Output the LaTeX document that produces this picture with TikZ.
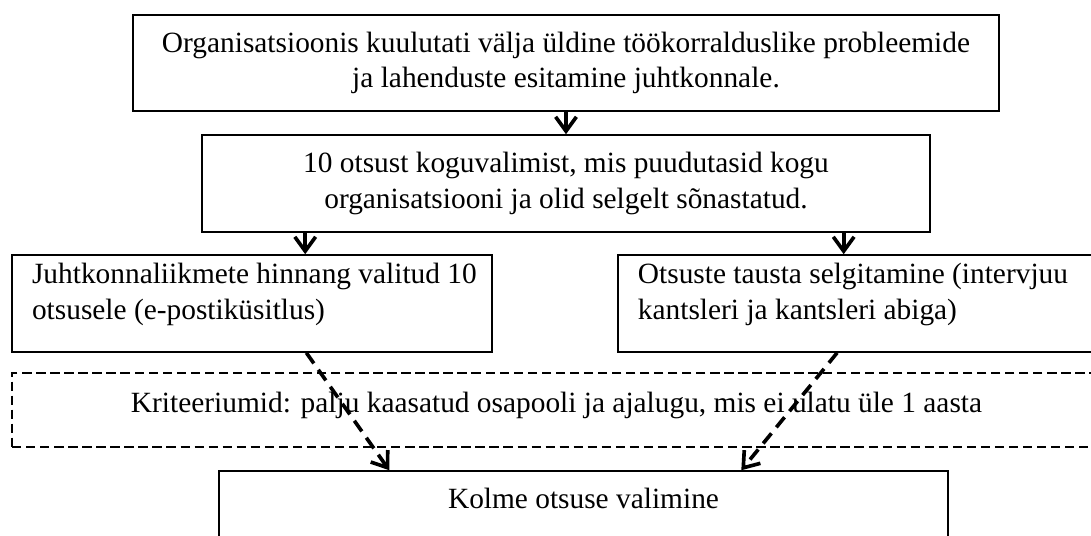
\documentclass[tikz,border=0pt]{standalone}
\usepackage{fontspec}
\setmainfont{Liberation Serif}
\usetikzlibrary{arrows.meta}
\tikzset{
  node-box/.style={draw,line width=0.6pt,inner sep=0pt,align=center,
    font=\fontsize{11.3pt}{13.8pt}\selectfont},
  node-crit/.style={node-box,dash pattern=on 3.6pt off 1.8pt},
  % text at the top of the box, not centred
  node-top/.style={node-box,inner xsep=7.7pt,inner ysep=3.1pt},
  arrow/.style={-{Straight Barb[length=5.5pt,width=8pt]},line width=1.4pt},
  arrow-dash/.style={arrow,dash pattern=on 5pt off 3pt},
}
\newcommand{\topbox}[3]{\parbox[c][#1][t]{#2}{#3}}

\begin{document}
\begin{tikzpicture}[x=0.3846pt,y=-0.3846pt]
  \clip (0,0) rectangle (1091,536);
  \node[node-box,minimum width=333.1pt,minimum height=36.9pt] (kuulutus) at (566,63)
    {Organisatsioonis kuulutati välja üldine töökorralduslike probleemide\\ja lahenduste esitamine juhtkonnale.};
  \node[node-box,minimum width=280pt,minimum height=37.3pt] (koguval) at (566,183.5)
    {10 otsust koguvalimist, mis puudutasid kogu\\organisatsiooni ja olid selgelt sõnastatud.};
  \node[node-top,minimum width=184.6pt] (hinnang) at (252,303.5)
    {\topbox{31.1pt}{169.2pt}{\raggedright\mbox{Juhtkonnaliikmete hinnang valitud 10}\\\mbox{otsusele (e-postiküsitlus)}}};
  \node[node-top,minimum width=185.8pt] (taust) at (859.5,303.5)
    {\topbox{31.1pt}{170.4pt}{\raggedright\mbox{Otsuste tausta selgitamine (intervjuu}\\\mbox{kantsleri ja kantsleri abiga)}}};
  \node[node-crit,minimum width=418.8pt,minimum height=28.5pt,
    text height=7.7pt,text depth=5.4pt] (kriteerium) at (556.5,410)
    {Kriteeriumid: palju kaasatud osapooli ja ajalugu, mis ei ulatu üle 1 aasta};
  \node[node-box,inner ysep=6.5pt,minimum width=280.4pt] (valik) at (583.5,519.5)
    {\topbox{24.3pt}{280.4pt}{\centering Kolme otsuse valimine}};
  \draw[arrow] (kuulutus) -- (koguval);
  \draw[arrow] ([xshift=40pt]koguval.south west) -- ([xshift=40pt]koguval.south west |- hinnang.north);
  \draw[arrow] ([xshift=-33.5pt]koguval.south east) -- ([xshift=-33.5pt]koguval.south east |- taust.north);
  \draw[arrow-dash] ([xshift=113.5pt]hinnang.south west) -- ([xshift=65.8pt]valik.north west);
  \draw[arrow-dash] ([xshift=84.6pt]taust.south west) -- ([xshift=201.2pt]valik.north west);
\end{tikzpicture}
\end{document}
